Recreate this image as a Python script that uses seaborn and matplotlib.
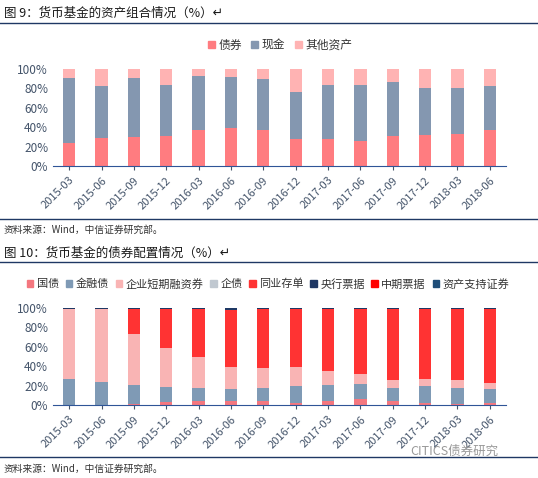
import numpy as np
import pandas as pd
import seaborn as sns
import matplotlib.pyplot as plt

dates = ["2015-03", "2015-06", "2015-09", "2015-12", "2016-03", "2016-06", "2016-09",
         "2016-12", "2017-03", "2017-06", "2017-09", "2017-12", "2018-03", "2018-06"]

# chart 1 (%)
bonds = [24, 29, 30, 31, 37, 39, 37, 28, 28, 26, 31, 32, 33, 37]
cash = [67, 53, 61, 53, 56, 53, 53, 48, 55, 57, 56, 48, 47, 45]
other = [9, 18, 9, 16, 7, 8, 10, 24, 17, 17, 13, 20, 20, 18]

# chart 2 (%)
gov = [0, 0, 1, 3, 4, 4, 4, 2, 4, 6, 4, 2, 1, 2]
fin = [27, 24, 20, 16, 14, 12, 14, 18, 17, 16, 14, 18, 17, 14]
cp = [72, 75, 52, 40, 31, 23, 20, 19, 14, 10, 8, 7, 8, 7]
corp = [0, 0, 0, 0, 0, 0, 0, 0, 0, 0, 0, 0, 0, 0]
ncd = [0, 0, 26, 40, 50, 59, 61, 60, 64, 67, 73, 72, 73, 76]
cbank = [1, 1, 0.5, 0.5, 0.5, 2, 0.5, 0.5, 0.5, 0.5, 0.5, 0.5, 0.5, 0.5]
mtn = [0, 0, 0, 0, 0, 0, 0, 0, 0, 0, 0, 0, 0, 0]
abs_ = [0, 0, 0, 0, 0, 0, 0, 0, 0, 0, 0, 0, 0, 0]

plt.rcParams['font.family'] = ['Noto Sans CJK SC', 'DejaVu Sans']
tick_c = "#44546A"

fig = plt.figure(figsize=(5.38, 4.78), dpi=100)
W, H = 538, 478


def fx(px):
    return px / W


def fy(py):
    return 1 - py / H


def stacked(ax, series, names, colors):
    cum = np.cumsum(np.array(series, dtype=float), axis=0)
    for k in range(len(series) - 1, -1, -1):
        df = pd.DataFrame({"date": dates, "v": cum[k]})
        sns.barplot(data=df, x="date", y="v", color=colors[k], width=0.38,
                    saturation=1, ax=ax, label=names[k], linewidth=0)
    ax.set_ylim(0, 100)
    ax.set_yticks(range(0, 101, 20))
    ax.set_yticklabels([f"{t}%" for t in range(0, 101, 20)])
    ax.set_xlabel("")
    ax.set_ylabel("")
    ax.tick_params(axis="x", rotation=45, labelsize=8, colors=tick_c, length=3)
    ax.tick_params(axis="y", labelsize=8.5, colors=tick_c, length=0)
    for lab in ax.get_xticklabels():
        lab.set_ha("right")
        lab.set_rotation_mode("anchor")
    for s in ["top", "right", "left"]:
        ax.spines[s].set_visible(False)
    ax.spines["bottom"].set_color("#2F5597")
    ax.set_xlim(-0.5, len(dates) - 0.5)
    ax.get_legend().remove() if ax.get_legend() else None


def header(title, y_title, y_line):
    fig.text(fx(4), fy(y_title), title, fontsize=9, va="center", color="#1a1a1a")
    fig.add_artist(plt.Line2D([0, 1], [fy(y_line)] * 2, color="#1F3864", lw=1))


def footer(y_line, y_text):
    fig.add_artist(plt.Line2D([0, 1], [fy(y_line)] * 2, color="#1F3864", lw=1))
    fig.text(fx(4), fy(y_text), "资料来源：Wind，中信证券研究部。", fontsize=7, va="center", color="#333333")


# top chart
header("图 9：货币基金的资产组合情况（%）↵", 13, 23)
ax1 = fig.add_axes([fx(53), fy(166), fx(506 - 53), fy(69) - fy(166)])
c1 = ["#FF7C80", "#8497B0", "#FFB3B3"]
n1 = ["债券", "现金", "其他资产"]
stacked(ax1, [bonds, cash, other], n1, c1)
h = [plt.Rectangle((0, 0), 1, 1, color=c) for c in c1]
fig.legend(h, n1, loc="center", bbox_to_anchor=(fx(280), fy(45)), ncol=3, frameon=False,
           fontsize=8.5, handlelength=0.6, handleheight=0.6, columnspacing=0.8, handletextpad=0.3,
           labelcolor="#333333")
footer(219, 230)

# bottom chart
header("图 10：货币基金的债券配置情况（%）↵", 253, 262)
ax2 = fig.add_axes([fx(53), fy(405), fx(506 - 53), fy(308) - fy(405)])
c2 = ["#F4777F", "#7F9AB5", "#F9B4B4", "#C0C8D0", "#FF3333", "#1F3864", "#FF0000", "#1F4E79"]
n2 = ["国债", "金融债", "企业短期融资券", "企债", "同业存单", "央行票据", "中期票据", "资产支持证券"]
stacked(ax2, [gov, fin, cp, corp, ncd, cbank, mtn, abs_], n2, c2)
h = [plt.Rectangle((0, 0), 1, 1, color=c) for c in c2]
fig.legend(h, n2, loc="center", bbox_to_anchor=(fx(268), fy(284)), ncol=8, frameon=False,
           fontsize=8, handlelength=0.6, handleheight=0.6, columnspacing=0.6, handletextpad=0.3,
           labelcolor="#333333")
footer(457, 469)
fig.text(fx(410), fy(451), "CITICS债券研究", fontsize=9, color="#999999", va="center")

fig.savefig("out.png", dpi=100)
